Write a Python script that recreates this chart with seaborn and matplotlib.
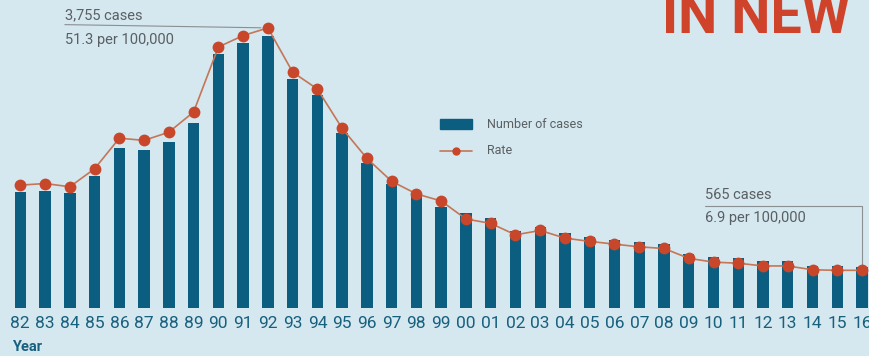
import matplotlib
matplotlib.use("Agg")
import matplotlib.pyplot as plt
import seaborn as sns
import pandas as pd
import numpy as np

years = ["82", "83", "84", "85", "86", "87", "88", "89", "90", "91", "92", "93",
         "94", "95", "96", "97", "98", "99", "00", "01", "02", "03", "04", "05",
         "06", "07", "08", "09", "10", "11", "12", "13", "14", "15", "16"]
cases = [1600, 1615, 1585, 1825, 2205, 2180, 2290, 2550, 3505, 3660, 3755, 3160,
         2940, 2415, 2000, 1710, 1545, 1395, 1310, 1245, 1060, 1120, 1035, 975,
         945, 905, 880, 740, 700, 685, 650, 650, 585, 575, 565]
rates = [22.5, 22.8, 22.2, 25.5, 31.1, 30.7, 32.2, 35.9, 47.8, 49.9, 51.3, 43.2,
         40.1, 32.9, 27.4, 23.2, 20.9, 19.6, 16.3, 15.5, 13.4, 14.2, 12.8, 12.2,
         11.7, 11.2, 10.9, 9.1, 8.4, 8.2, 7.7, 7.7, 7.0, 6.9, 6.9]

df = pd.DataFrame({"year": years, "cases": cases, "rate": rates})

BG = "#d5e7ef"
BAR = "#0b5e7f"
DOT = "#c8462a"
LINE = "#c47656"
TXT = "#5a5f62"
TEAL = "#17607e"

sns.set_theme(style="white")
plt.rcParams["font.family"] = ["Roboto", "DejaVu Sans"]

fig = plt.figure(figsize=(8.7, 3.56), dpi=100, facecolor=BG)
ax = fig.add_axes([0, 48 / 356, 1, 308 / 356])
ax.set_facecolor(BG)

sns.barplot(data=df, x="year", y="cases", color=BAR, width=0.46,
            saturation=1, linewidth=0, ax=ax)
ax.set_xlim(-0.82, 34.32)
ax.set_ylim(0, 3755 * 308 / 272)

ax2 = ax.twinx()
sns.lineplot(x=np.arange(len(years)), y=df["rate"], ax=ax2, color=LINE,
             linewidth=1.2, zorder=2)
ax2.plot(np.arange(len(years)), df["rate"], linestyle="none", marker="o",
         markersize=8.5, color=DOT, markeredgewidth=0, zorder=3)
ax2.set_ylim(0, 308 / 5.46)

for a in (ax, ax2):
    for s in a.spines.values():
        s.set_visible(False)
    a.set_yticks([])
    a.set_ylabel("")
    if a.get_legend() is not None:
        a.get_legend().remove()
ax.set_xlabel("")
ax.tick_params(axis="x", length=0, pad=6, labelsize=12.5, labelcolor=TEAL)
ax2.set_xlim(ax.get_xlim())

# Year caption under the axis labels
fig.text(12 / 870, 1 - 347 / 356, "Year", fontsize=10.5, color=TEAL,
         fontweight="bold", va="center", ha="left")

# Peak annotation (1992)
peak = years.index("92")
ax2.annotate("", xy=(peak, rates[peak]), xytext=(1.8, rates[peak] + 0.6),
             xycoords="data", textcoords="data",
             arrowprops=dict(arrowstyle="-", color="#8a8f92", lw=0.8,
                             shrinkA=0, shrinkB=5))
fig.text(65 / 870, 1 - 15 / 356, f"{cases[peak]:,} cases", fontsize=10.5,
         color=TXT, va="center", ha="left")
fig.text(65 / 870, 1 - 40 / 356, f"{rates[peak]} per 100,000", fontsize=10.5,
         color=TXT, va="center", ha="left")

# Latest-year annotation (2016)
last = len(years) - 1
ax2.plot([27.65, last, last], [18.6, 18.6, rates[last] + 1.0],
         color="#8a8f92", lw=0.8, zorder=1)
fig.text(705 / 870, 1 - 195 / 356, f"{cases[last]} cases", fontsize=10.5,
         color=TXT, va="center", ha="left")
fig.text(705 / 870, 1 - 218 / 356, f"{rates[last]} per 100,000", fontsize=10.5,
         color=TXT, va="center", ha="left")

# Legend drawn by hand in figure coordinates
fig.patches.append(plt.Rectangle((440 / 870, 1 - 129 / 356), 32 / 870, 10 / 356,
                                 transform=fig.transFigure, color=BAR))
fig.lines.append(plt.Line2D([440 / 870, 472 / 870], [1 - 151 / 356] * 2,
                            transform=fig.transFigure, color=LINE, lw=1.2))
fig.lines.append(plt.Line2D([456 / 870], [1 - 151 / 356], marker="o",
                            markersize=6, color=DOT, markeredgewidth=0,
                            transform=fig.transFigure))
fig.text(487 / 870, 1 - 124 / 356, "Number of cases", fontsize=9, color=TXT,
         va="center", ha="left")
fig.text(487 / 870, 1 - 151 / 356, "Rate", fontsize=9, color=TXT,
         va="center", ha="left")

# Headline, cut off by the top edge
fig.text(662 / 870, 1 - 33 / 356, "IN NEW", fontsize=40, color="#d0432b",
         fontweight="bold", va="baseline", ha="left",
         family=["Liberation Sans Narrow", "Roboto", "DejaVu Sans"])

fig.savefig("out.png", dpi=100, facecolor=BG)
